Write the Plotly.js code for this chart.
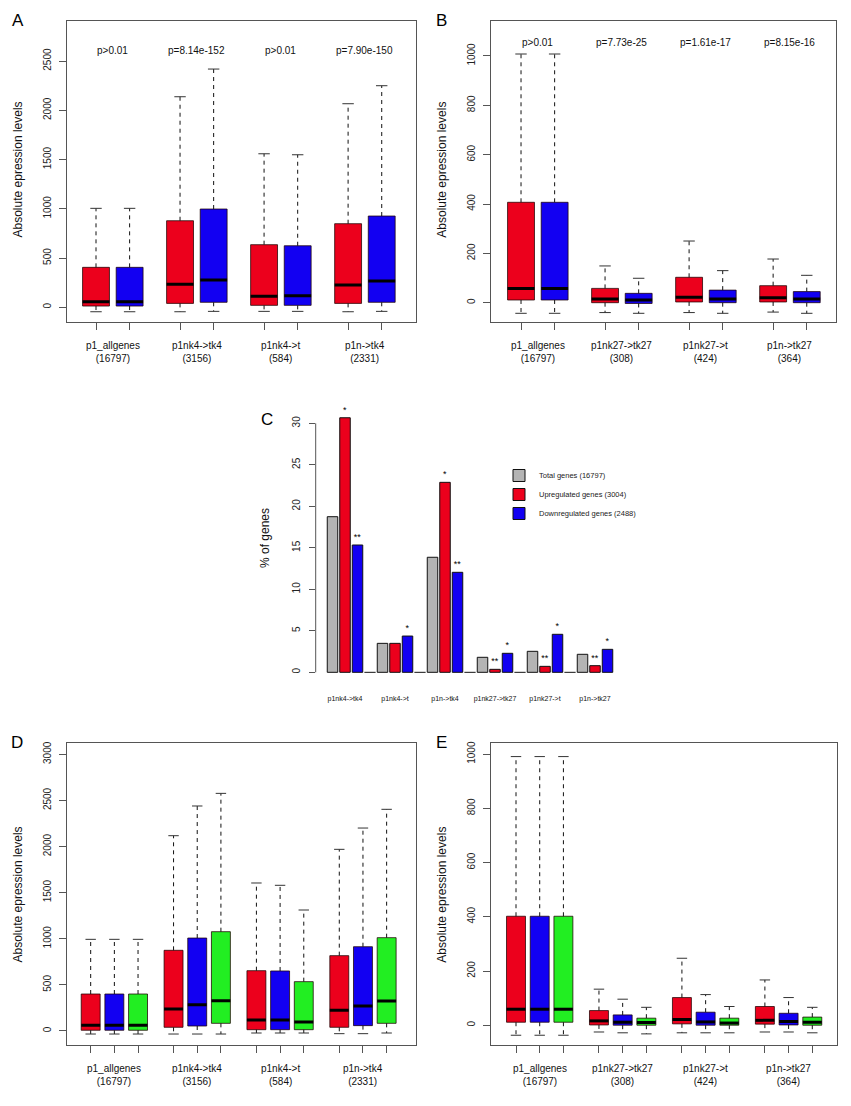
<!DOCTYPE html>
<html><head><meta charset="utf-8">
<script src="https://cdn.plot.ly/plotly-3.0.1.min.js"></script>
<style>html,body{margin:0;padding:0;background:#fff}</style>
</head><body><div id="chart" style="width:851px;height:1106px"></div>
<script>
// ---------------- DATA ----------------
// Panel A
const groupsA = ["p1_allgenes", "p1nk4->tk4", "p1nk4->t", "p1n->tk4"];
const countsA = [16797, 3156, 584, 2331];
const pvalsA = ["p>0.01", "p=8.14e-152", "p>0.01", "p=7.90e-150"];
const aRedLower = [-45, -45, -41, -45];
const aRedQ1 = [13, 40, 20, 40];
const aRedMed = [57, 233, 112, 226];
const aRedQ3 = [406, 879, 636, 849];
const aRedUpper = [1005, 2138, 1559, 2067];
const aBlueLower = [-45, -41, -41, -41];
const aBlueQ1 = [13, 51, 20, 51];
const aBlueMed = [57, 277, 118, 267];
const aBlueQ3 = [406, 998, 625, 927];
const aBlueUpper = [1005, 2419, 1549, 2250];
const yTicksA = [0, 500, 1000, 1500, 2000, 2500];

// Panel B
const groupsB = ["p1_allgenes", "p1nk27->tk27", "p1nk27->t", "p1n->tk27"];
const countsB = [16797, 308, 424, 364];
const pvalsB = ["p>0.01", "p=7.73e-25", "p=1.61e-17", "p=8.15e-16"];
const bRedLower = [-43, -40, -40, -38];
const bRedQ1 = [11, 0, 3, 3];
const bRedMed = [58, 15, 22, 20];
const bRedQ3 = [407, 58, 103, 69];
const bRedUpper = [1008, 149, 250, 177];
const bBlueLower = [-43, -43, -43, -43];
const bBlueQ1 = [11, -3, 0, 0];
const bBlueMed = [58, 11, 15, 15];
const bBlueQ3 = [407, 38, 51, 45];
const bBlueUpper = [1008, 99, 130, 111];
const yTicksB = [0, 200, 400, 600, 800, 1000];

// Panel C
const catsC = ["p1nk4->tk4", "p1nk4->t", "p1n->tk4", "p1nk27->tk27", "p1nk27->t", "p1n->tk27"];
const seriesNamesC = ["Total genes (16797)", "Upregulated genes (3004)", "Downregulated genes (2488)"];
const totalC = [18.75, 3.49, 13.86, 1.81, 2.53, 2.17];
const upC = [30.67, 3.49, 22.89, 0.36, 0.72, 0.80];
const downC = [15.34, 4.37, 12.05, 2.29, 4.58, 2.77];
const sigTotalC = ["", "", "", "", "", ""];
const sigUpC = ["*", "", "*", "**", "**", "**"];
const sigDownC = ["**", "*", "**", "*", "*", "*"];
const yTicksC = [0, 5, 10, 15, 20, 25, 30];

// Panel D
const dRedLower = [-33, -33, -22, -29];
const dRedQ1 = [8, 40, 14, 40];
const dRedMed = [62, 239, 119, 224];
const dRedQ3 = [401, 875, 654, 817];
const dRedUpper = [994, 2118, 1605, 1970];
const dBlueLower = [-33, -33, -22, -29];
const dBlueQ1 = [8, 54, 14, 58];
const dBlueMed = [62, 285, 119, 271];
const dBlueQ3 = [401, 1008, 651, 914];
const dBlueUpper = [994, 2440, 1580, 2201];
const dGreenLower = [-33, -33, -22, -22];
const dGreenQ1 = [8, 83, 14, 83];
const dGreenMed = [62, 329, 98, 325];
const dGreenQ3 = [401, 1077, 535, 1012];
const dGreenUpper = [994, 2577, 1312, 2404];
const yTicksD = [0, 500, 1000, 1500, 2000, 2500, 3000];

// Panel E
const eRedLower = [-37, -25, -28, -25];
const eRedQ1 = [11, 1, 5, 4];
const eRedMed = [59, 16, 21, 18];
const eRedQ3 = [402, 54, 102, 69];
const eRedUpper = [991, 133, 247, 167];
const eBlueLower = [-37, -28, -28, -25];
const eBlueQ1 = [11, 0, 0, 1];
const eBlueMed = [59, 11, 12, 14];
const eBlueQ3 = [402, 38, 48, 44];
const eBlueUpper = [991, 96, 113, 102];
const eGreenLower = [-37, -32, -28, -28];
const eGreenQ1 = [11, 0, 0, 0];
const eGreenMed = [59, 10, 8, 11];
const eGreenQ3 = [402, 26, 26, 30];
const eGreenUpper = [991, 66, 69, 66];
const yTicksE = [0, 200, 400, 600, 800, 1000];

const yTitle = "Absolute epression levels";
const yTitleC = "% of genes";

// ---------------- STYLE / LAYOUT ----------------
const W = 851, H = 1106;
const fx = p => p / W;
const fy = p => 1 - p / H;
const RED = '#EC001C', BLUE = '#1200F2', GREEN = '#22EE22', GRAY = '#B4B4B4';
const FRAME = '#555555';
const FONT = 'Liberation Sans, Arial, Helvetica, sans-serif';

const traces = [];
const annotations = [];
const shapes = [];
const layout = {
  width: W, height: H, margin: {l: 0, r: 0, t: 0, b: 0},
  paper_bgcolor: '#fff', plot_bgcolor: 'rgba(0,0,0,0)',
  font: {family: FONT, color: '#111', size: 10},
  barmode: 'overlay', hovermode: false,
  showlegend: true,
  legend: {x: fx(499), y: fy(461), xanchor: 'left', yanchor: 'top',
           font: {size: 7.5, family: FONT, color: '#222'}, bgcolor: 'rgba(0,0,0,0)',
           traceorder: 'normal', itemwidth: 30},
  annotations: annotations, shapes: shapes
};

function boxPanel(ax, series, colors, groupStep, capHalf, groups, counts, pvals, pvalY,
                  domX, domY, xr, yr, yticks, labelYpx) {
  const xa = 'x' + ax, ya = 'y' + ax;
  const nSer = series.length;
  const pos = series.map((s, si) => s.q1.map((_, g) => 1 + g * groupStep + si));
  const wx = [], wy = [], cx = [], cy = [], mx = [], my = [];
  series.forEach((s, si) => {
    pos[si].forEach((x, g) => {
      wx.push(x, x, null, x, x, null);
      wy.push(s.q3[g], s.upper[g], null, s.q1[g], s.lower[g], null);
      cx.push(x - capHalf, x + capHalf, null, x - capHalf, x + capHalf, null);
      cy.push(s.upper[g], s.upper[g], null, s.lower[g], s.lower[g], null);
      mx.push(x - 0.4, x + 0.4, null);
      my.push(s.med[g], s.med[g], null);
    });
  });
  traces.push({type: 'scatter', mode: 'lines', x: wx, y: wy, xaxis: xa, yaxis: ya,
    line: {color: '#111', width: 1, dash: '4px,4px'}, showlegend: false, hoverinfo: 'skip'});
  traces.push({type: 'scatter', mode: 'lines', x: cx, y: cy, xaxis: xa, yaxis: ya,
    line: {color: '#333', width: 1}, showlegend: false, hoverinfo: 'skip'});
  series.forEach((s, si) => {
    traces.push({type: 'bar', x: pos[si], base: s.q1, y: s.q3.map((v, g) => v - s.q1[g]),
      width: 0.8, xaxis: xa, yaxis: ya, showlegend: false, hoverinfo: 'skip',
      marker: {color: colors[si], line: {color: 'rgba(30,0,0,0.75)', width: 1}}});
  });
  traces.push({type: 'scatter', mode: 'lines', x: mx, y: my, xaxis: xa, yaxis: ya,
    line: {color: '#000', width: 3}, showlegend: false, hoverinfo: 'skip'});

  groups.forEach((g, gi) => {
    const c = 1 + gi * groupStep + (nSer - 1) / 2;
    annotations.push({xref: xa, yref: 'paper', x: c, y: fy(labelYpx), xanchor: 'center', yanchor: 'middle',
      text: g + '<br>(' + counts[gi] + ')', showarrow: false, font: {size: 10, color: '#111'}});
    if (pvals) {
      annotations.push({xref: xa, yref: ya, x: c, y: pvalY, xanchor: 'center', yanchor: 'middle',
        text: pvals[gi], showarrow: false, font: {size: 10, color: '#111'}});
    }
  });

  const key = ax === 1 ? '' : ax;
  layout['xaxis' + key] = {domain: [fx(domX[0]), fx(domX[1])], range: xr, anchor: ya,
    showline: true, mirror: true, linecolor: FRAME, linewidth: 1,
    ticks: 'outside', ticklen: 7, tickcolor: FRAME, tickwidth: 1,
    tickvals: pos.flat(), showticklabels: false, showgrid: false, zeroline: false, fixedrange: true};
  layout['yaxis' + key] = {domain: [fy(domY[1]), fy(domY[0])], range: yr, anchor: xa,
    showline: true, mirror: true, linecolor: FRAME, linewidth: 1,
    ticks: 'outside', ticklen: 7, tickcolor: FRAME, tickwidth: 1,
    tickvals: yticks, ticktext: yticks.map(String), tickangle: -90,
    tickfont: {size: 10, color: '#222'}, ticklabelstandoff: 4,
    showgrid: false, zeroline: false, fixedrange: true};
}

const mk = (lower, q1, med, q3, upper) => ({lower, q1, med, q3, upper});

// A
boxPanel(1, [mk(aRedLower, aRedQ1, aRedMed, aRedQ3, aRedUpper), mk(aBlueLower, aBlueQ1, aBlueMed, aBlueQ3, aBlueUpper)],
  [RED, BLUE], 2.5, 0.17, groupsA, countsA, pvalsA, 2612,
  [66.7, 416], [20.7, 321.7], [0.128, 10.52], [-146, 2910], yTicksA, 351.5);
// B
boxPanel(2, [mk(bRedLower, bRedQ1, bRedMed, bRedQ3, bRedUpper), mk(bBlueLower, bBlueQ1, bBlueMed, bBlueQ3, bBlueUpper)],
  [RED, BLUE], 2.5, 0.17, groupsB, countsB, pvalsB, 1054,
  [491, 836], [20.7, 321.7], [0.107, 10.37], [-77, 1143], yTicksB, 351.5);
// D
boxPanel(4, [mk(dRedLower, dRedQ1, dRedMed, dRedQ3, dRedUpper), mk(dBlueLower, dBlueQ1, dBlueMed, dBlueQ3, dBlueUpper),
  mk(dGreenLower, dGreenQ1, dGreenMed, dGreenQ3, dGreenUpper)],
  [RED, BLUE, GREEN], 3.5, 0.22, groupsA, countsA, null, 0,
  [66.7, 416], [743.3, 1045], [-0.013, 14.74], [-152, 3120], yTicksD, 1075.3);
// E
boxPanel(5, [mk(eRedLower, eRedQ1, eRedMed, eRedQ3, eRedUpper), mk(eBlueLower, eBlueQ1, eBlueMed, eBlueQ3, eBlueUpper),
  mk(eGreenLower, eGreenQ1, eGreenMed, eGreenQ3, eGreenUpper)],
  [RED, BLUE, GREEN], 3.5, 0.22, groupsB, countsB, null, 0,
  [491, 836.7], [743.3, 1045], [-0.055, 14.53], [-73, 1040], yTicksE, 1075.3);

// C : grouped bar chart
const cVals = [totalC, upC, downC];
const cSig = [sigTotalC, sigUpC, sigDownC];
const cCols = [GRAY, RED, BLUE];
cVals.forEach((vals, j) => {
  traces.push({type: 'bar', name: seriesNamesC[j],
    x: vals.map((_, i) => i * 4 + j), y: vals, width: 0.84,
    xaxis: 'x3', yaxis: 'y3', hoverinfo: 'skip',
    marker: {color: cCols[j], line: {color: '#111', width: 1}},
    text: cSig[j], textposition: 'outside', cliponaxis: false,
    textfont: {size: 9, color: '#000'}});
});
// zero-height spacer bars between groups (drawn as baseline segments)
const spX = [], spY = [];
catsC.slice(1).forEach((_, i) => { const x = i * 4 + 3; spX.push(x - 0.45, x + 0.45, null); spY.push(0, 0, null); });
traces.push({type: 'scatter', mode: 'lines', x: spX, y: spY, xaxis: 'x3', yaxis: 'y3',
  line: {color: '#111', width: 1}, showlegend: false, hoverinfo: 'skip'});

layout.xaxis3 = {domain: [fx(315.7), fx(720)], range: [-1.344, 31], anchor: 'y3',
  showline: false, ticks: '', tickvals: catsC.map((_, i) => i * 4 + 1), ticktext: catsC,
  tickfont: {size: 7, color: '#111'}, ticklabelstandoff: 3, showgrid: false, zeroline: false, fixedrange: true};
layout.yaxis3 = {domain: [fy(690), fy(400)], range: [-2.13, 32.81], anchor: 'x3',
  showline: false, ticks: 'outside', ticklen: 6, tickcolor: FRAME, tickwidth: 1,
  tickvals: yTicksC, ticktext: yTicksC.map(String), tickangle: -90,
  tickfont: {size: 10, color: '#222'}, ticklabelstandoff: 5,
  showgrid: false, zeroline: false, fixedrange: true};
shapes.push({type: 'line', xref: 'x3 domain', yref: 'y3', x0: 0, x1: 0,
  y0: yTicksC[0], y1: yTicksC[yTicksC.length - 1], line: {color: FRAME, width: 1}});

// axis titles and panel letters
[[17.5, 170], [441.7, 170], [17.5, 895], [441.7, 895]].forEach(p => {
  annotations.push({xref: 'paper', yref: 'paper', x: fx(p[0]), y: fy(p[1]), xanchor: 'center', yanchor: 'middle',
    text: yTitle, textangle: -90, showarrow: false, font: {size: 12, color: '#111'}});
});
annotations.push({xref: 'paper', yref: 'paper', x: fx(265), y: fy(538), xanchor: 'center', yanchor: 'middle',
  text: yTitleC, textangle: -90, showarrow: false, font: {size: 12, color: '#111'}});
[['A', 18, 21], ['B', 441, 21], ['C', 266.5, 419], ['D', 16.5, 742.5], ['E', 441, 742.5]].forEach(l => {
  annotations.push({xref: 'paper', yref: 'paper', x: fx(l[1]), y: fy(l[2]), xanchor: 'center', yanchor: 'middle',
    text: l[0], showarrow: false, font: {size: 17, color: '#000'}});
});

Plotly.newPlot('chart', traces, layout, {staticPlot: true, displayModeBar: false});
</script>
</body></html>
